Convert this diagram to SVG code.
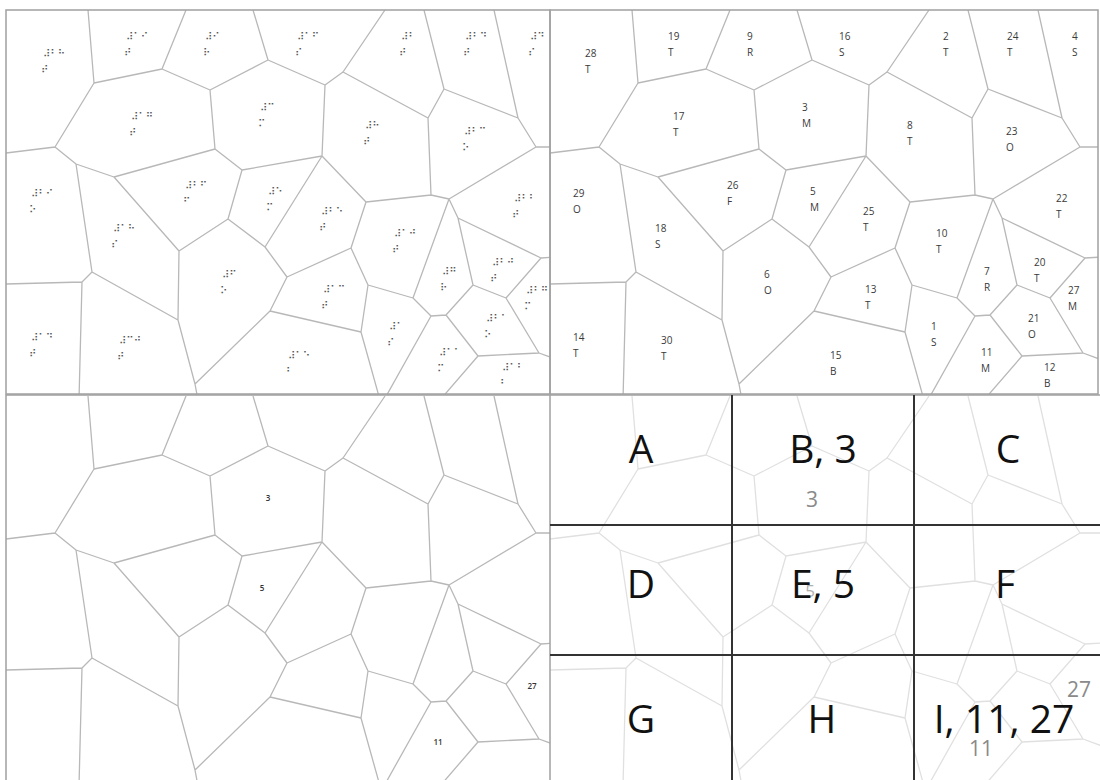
<svg xmlns="http://www.w3.org/2000/svg" xmlns:xlink="http://www.w3.org/1999/xlink" width="1100" height="780" viewBox="0 0 1100 780">
<style>
.vor{fill:none;stroke:#b8b8b8;stroke-width:1.3;stroke-linejoin:round}
.vorl{fill:none;stroke:#e0e0e0;stroke-width:1.3;stroke-linejoin:round}
.frame{fill:none;stroke:#a0a0a0;stroke-width:1.5}
.lbl{font-family:"Open Sans","Liberation Sans",sans-serif;font-size:10px;fill:#3a3a3a}
.brl{font-family:"DejaVu Sans",sans-serif;font-size:10px;fill:#555}
.sm{font-family:"Open Sans","Liberation Sans",sans-serif;font-size:8px;fill:#333;text-anchor:middle;font-weight:600}
.big{font-family:"Open Sans","Liberation Sans",sans-serif;font-size:39px;fill:#111;text-anchor:middle}
.gry{font-family:"Open Sans","Liberation Sans",sans-serif;font-size:21px;fill:#8a8a8a;text-anchor:middle}
.grid{stroke:#333;stroke-width:2;fill:none}
</style>
<defs>
<path id="vorpath" d="M82,0 L88,73 L156,59 L180,0 M156,59 L204,80 L262,50 L247,0 M262,50 L319,75 L337,62 L379,0 M337,62 L422,108 L438,79 L418,0 M438,79 L512,108 L488,0 M512,108 L530,137 L552,137 M530,137 L443,189 L425,185 L422,108 M425,185 L360,192 L316,146 L319,75 M316,146 L236,160 L209,139 L204,80 M209,139 L108,167 L70,154 L49,137 L88,73 M49,137 L0,143 M70,154 L86,262 L76,272 L0,274 M76,272 L73,390 M86,262 L172,310 L173,241 L108,167 M173,241 L222,209 L236,160 M222,209 L259,237 L316,146 M259,237 L281,267 L345,238 L360,192 M281,267 L264,301 L189,374 L192,390 M189,374 L172,310 M264,301 L355,322 L374,390 M355,322 L362,275 L345,238 M362,275 L407,288 L443,189 M407,288 L425,306 L378,390 M425,306 L440,305 L467,275 L452,208 L443,189 M452,208 L535,248 L552,247 M467,275 L500,288 L535,248 M500,288 L533,343 L552,350 M533,343 L472,346 L440,305 M472,346 L434,390"/>
<clipPath id="cTL"><rect x="6" y="10" width="544" height="384"/></clipPath>
<clipPath id="cTR"><rect x="550" y="10" width="548" height="384"/></clipPath>
<clipPath id="cBL"><rect x="6" y="395" width="544" height="385"/></clipPath>
<clipPath id="cBR"><rect x="550" y="395" width="550" height="385"/></clipPath>
</defs>
<rect width="1100" height="780" fill="#fff"/>

<!-- Voronoi cells -->
<g id="connectors">
<g clip-path="url(#cTL)"><use xlink:href="#vorpath" class="vor" transform="translate(6,10)"/></g>
<g clip-path="url(#cTR)"><use xlink:href="#vorpath" class="vor" transform="translate(550,10)"/></g>
<g clip-path="url(#cBL)"><use xlink:href="#vorpath" class="vor" transform="translate(6,396)"/></g>
<g clip-path="url(#cBR)"><use xlink:href="#vorpath" class="vorl" transform="translate(550,396)"/></g>
</g>

<!-- frames -->
<g id="frames">
<rect class="frame" x="6" y="10" width="544" height="384"/>
<rect class="frame" x="550" y="10" width="548" height="384"/>
<rect class="frame" x="6" y="395" width="544" height="386"/>
<line class="frame" x1="550" y1="395" x2="1100" y2="395"/>
</g>

<!-- top-left: braille labels -->
<g id="braille" class="brl" transform="translate(6,10)">
<text x="37" y="47">⠼⠃⠓<tspan x="35" dy="16">⠞</tspan></text>
<text x="120" y="30">⠼⠁⠊<tspan x="118" dy="16">⠞</tspan></text>
<text x="199" y="30">⠼⠊<tspan x="197" dy="16">⠗</tspan></text>
<text x="125" y="110">⠼⠁⠛<tspan x="123" dy="16">⠞</tspan></text>
<text x="254" y="101">⠼⠉<tspan x="252" dy="16">⠍</tspan></text>
<text x="25" y="187">⠼⠃⠊<tspan x="23" dy="16">⠕</tspan></text>
<text x="179" y="179">⠼⠃⠋<tspan x="177" dy="16">⠋</tspan></text>
<text x="262" y="185">⠼⠑<tspan x="260" dy="16">⠍</tspan></text>
<text x="107" y="222">⠼⠁⠓<tspan x="105" dy="16">⠎</tspan></text>
<text x="216" y="268">⠼⠋<tspan x="214" dy="16">⠕</tspan></text>
<text x="25" y="331">⠼⠁⠙<tspan x="23" dy="16">⠞</tspan></text>
<text x="113" y="334">⠼⠉⠚<tspan x="111" dy="16">⠞</tspan></text>
<text x="291" y="30">⠼⠁⠋<tspan x="289" dy="16">⠎</tspan></text>
<text x="395" y="30">⠼⠃<tspan x="393" dy="16">⠞</tspan></text>
<text x="459" y="30">⠼⠃⠙<tspan x="457" dy="16">⠞</tspan></text>
<text x="524" y="30">⠼⠙<tspan x="522" dy="16">⠎</tspan></text>
<text x="359" y="119">⠼⠓<tspan x="357" dy="16">⠞</tspan></text>
<text x="458" y="125">⠼⠃⠉<tspan x="456" dy="16">⠕</tspan></text>
<text x="508" y="192">⠼⠃⠃<tspan x="506" dy="16">⠞</tspan></text>
<text x="315" y="205">⠼⠃⠑<tspan x="313" dy="16">⠞</tspan></text>
<text x="388" y="227">⠼⠁⠚<tspan x="386" dy="16">⠞</tspan></text>
<text x="486" y="256">⠼⠃⠚<tspan x="484" dy="16">⠞</tspan></text>
<text x="436" y="265">⠼⠛<tspan x="434" dy="16">⠗</tspan></text>
<text x="520" y="284">⠼⠃⠛<tspan x="518" dy="16">⠍</tspan></text>
<text x="317" y="283">⠼⠁⠉<tspan x="315" dy="16">⠞</tspan></text>
<text x="480" y="312">⠼⠃⠁<tspan x="478" dy="16">⠕</tspan></text>
<text x="383" y="320">⠼⠁<tspan x="381" dy="16">⠎</tspan></text>
<text x="433" y="346">⠼⠁⠁<tspan x="431" dy="16">⠍</tspan></text>
<text x="282" y="349">⠼⠁⠑<tspan x="280" dy="16">⠃</tspan></text>
<text x="496" y="361">⠼⠁⠃<tspan x="494" dy="16">⠃</tspan></text>
</g>

<!-- top-right: number + letter labels -->
<g id="labels" class="lbl" transform="translate(550,10)">
<text x="35" y="47">28<tspan x="35" dy="16">T</tspan></text>
<text x="118" y="30">19<tspan x="118" dy="16">T</tspan></text>
<text x="197" y="30">9<tspan x="197" dy="16">R</tspan></text>
<text x="123" y="110">17<tspan x="123" dy="16">T</tspan></text>
<text x="252" y="101">3<tspan x="252" dy="16">M</tspan></text>
<text x="23" y="187">29<tspan x="23" dy="16">O</tspan></text>
<text x="177" y="179">26<tspan x="177" dy="16">F</tspan></text>
<text x="260" y="185">5<tspan x="260" dy="16">M</tspan></text>
<text x="105" y="222">18<tspan x="105" dy="16">S</tspan></text>
<text x="214" y="268">6<tspan x="214" dy="16">O</tspan></text>
<text x="23" y="331">14<tspan x="23" dy="16">T</tspan></text>
<text x="111" y="334">30<tspan x="111" dy="16">T</tspan></text>
<text x="289" y="30">16<tspan x="289" dy="16">S</tspan></text>
<text x="393" y="30">2<tspan x="393" dy="16">T</tspan></text>
<text x="457" y="30">24<tspan x="457" dy="16">T</tspan></text>
<text x="522" y="30">4<tspan x="522" dy="16">S</tspan></text>
<text x="357" y="119">8<tspan x="357" dy="16">T</tspan></text>
<text x="456" y="125">23<tspan x="456" dy="16">O</tspan></text>
<text x="506" y="192">22<tspan x="506" dy="16">T</tspan></text>
<text x="313" y="205">25<tspan x="313" dy="16">T</tspan></text>
<text x="386" y="227">10<tspan x="386" dy="16">T</tspan></text>
<text x="484" y="256">20<tspan x="484" dy="16">T</tspan></text>
<text x="434" y="265">7<tspan x="434" dy="16">R</tspan></text>
<text x="518" y="284">27<tspan x="518" dy="16">M</tspan></text>
<text x="315" y="283">13<tspan x="315" dy="16">T</tspan></text>
<text x="478" y="312">21<tspan x="478" dy="16">O</tspan></text>
<text x="381" y="320">1<tspan x="381" dy="16">S</tspan></text>
<text x="431" y="346">11<tspan x="431" dy="16">M</tspan></text>
<text x="280" y="349">15<tspan x="280" dy="16">B</tspan></text>
<text x="494" y="361">12<tspan x="494" dy="16">B</tspan></text>
</g>

<!-- bottom-left: selected cell numbers -->
<g id="selected" class="sm" transform="translate(6,396)">
<text x="262" y="105">3</text>
<text x="256" y="195">5</text>
<text x="526" y="293">27</text>
<text x="432" y="349">11</text>
</g>

<!-- bottom-right: grid -->
<g id="grid">
<line class="grid" x1="732" y1="395" x2="732" y2="780"/>
<line class="grid" x1="914" y1="395" x2="914" y2="780"/>
<line class="grid" x1="550" y1="525" x2="1100" y2="525"/>
<line class="grid" x1="550" y1="655" x2="1100" y2="655"/>
</g>
<g id="gridnums" class="gry">
<text x="812" y="507">3</text>
<text x="810" y="597" fill="#b0b0b0" font-size="17">5</text>
<text x="1079" y="697">27</text>
<text x="981" y="756">11</text>
</g>
<g id="cellA"><text class="big" x="641" y="463">A</text></g>
<g id="cellB"><text class="big" x="823" y="463">B, 3</text></g>
<g id="cellC"><text class="big" x="1008" y="463">C</text></g>
<g id="cellD"><text class="big" x="641" y="598">D</text></g>
<g id="cellE"><text class="big" x="823" y="598">E, 5</text></g>
<g id="cellF"><text class="big" x="1005" y="598">F</text></g>
<g id="cellG"><text class="big" x="641" y="733">G</text></g>
<g id="cellH"><text class="big" x="822" y="733">H</text></g>
<g id="cellI"><text class="big" x="1004" y="733">I, 11, 27</text></g>
</svg>
